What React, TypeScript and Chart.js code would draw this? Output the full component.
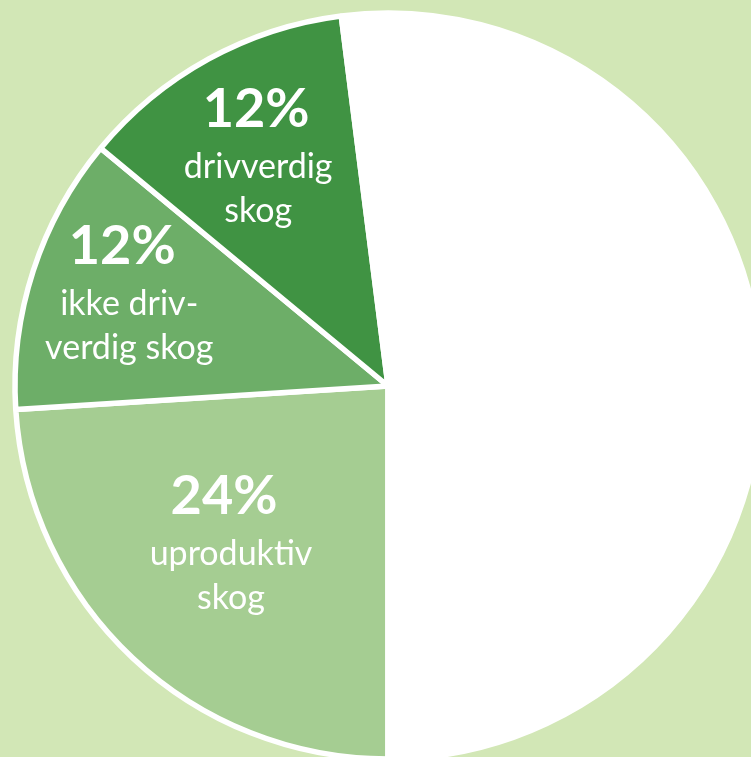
import React, { useEffect, useRef } from "react";
import { Chart, registerables } from "chart.js";

Chart.register(...registerables);

const categories = ["uproduktiv skog", "ikke drivverdig skog", "drivverdig skog", "annet"];
const values = [24, 12, 12, 52];
const labelLines = [["uproduktiv", "skog"], ["ikke driv-", "verdig skog"], ["drivverdig", "skog"], []];
const colors = ["#a5cd92", "#6dae68", "#409343", "#ffffff"];

// label placement (fraction of radius, angle tweak in degrees, percent x shift)
const labelRadius = [0.607, 0.732, 0.694, 0];
const labelAngleDeg = [0.7, 0.6, -1.3, 0];
const pctShift = [-7, -7, -2, 0];

const labelPlugin = {
  id: "sliceLabels",
  afterDatasetsDraw(chart: any) {
    const meta = chart.getDatasetMeta(0);
    const ctx = chart.ctx;
    ctx.save();
    ctx.fillStyle = "#ffffff";
    ctx.textAlign = "center";
    ctx.textBaseline = "alphabetic";
    meta.data.forEach((arc: any, i: number) => {
      const lines = labelLines[i];
      if (!lines || lines.length === 0) return;
      const { x, y, startAngle, endAngle, outerRadius } = arc.getProps(
        ["x", "y", "startAngle", "endAngle", "outerRadius"],
        true
      );
      const mid = (startAngle + endAngle) / 2 + (labelAngleDeg[i] * Math.PI) / 180;
      const r = outerRadius * labelRadius[i];
      const cx = x + Math.cos(mid) * r;
      const cy = y + Math.sin(mid) * r;
      ctx.font = "bold 54px Lato";
      ctx.fillText(values[i] + "%", cx + pctShift[i], cy - 35);
      ctx.font = "34px Lato";
      lines.forEach((ln: string, k: number) => {
        ctx.fillText(ln, cx, cy + 16 + k * 44);
      });
    });
    ctx.restore();
  },
};

export default function App() {
  const ref = useRef<HTMLCanvasElement>(null);
  useEffect(() => {
    document.body.style.margin = "0";
    const chart = new Chart(ref.current as HTMLCanvasElement, {
      type: "pie",
      data: {
        labels: categories,
        datasets: [
          {
            data: values,
            backgroundColor: colors,
            borderColor: "#ffffff",
            borderWidth: 5.5,
          },
        ],
      },
      options: {
        responsive: false,
        animation: false,
        events: [],
        rotation: 180,
        radius: 373,
        layout: { padding: 0 },
        plugins: {
          legend: { display: false },
          tooltip: { enabled: false },
        },
      },
      plugins: [labelPlugin],
    });
    return () => chart.destroy();
  }, []);
  return (
    <div
      style={{
        position: "fixed",
        left: 0,
        top: 0,
        width: 751,
        height: 757,
        overflow: "hidden",
        background: "#d2e7b6",
      }}
    >
      <canvas ref={ref} width={776} height={772} style={{ display: "block" }} />
    </div>
  );
}
